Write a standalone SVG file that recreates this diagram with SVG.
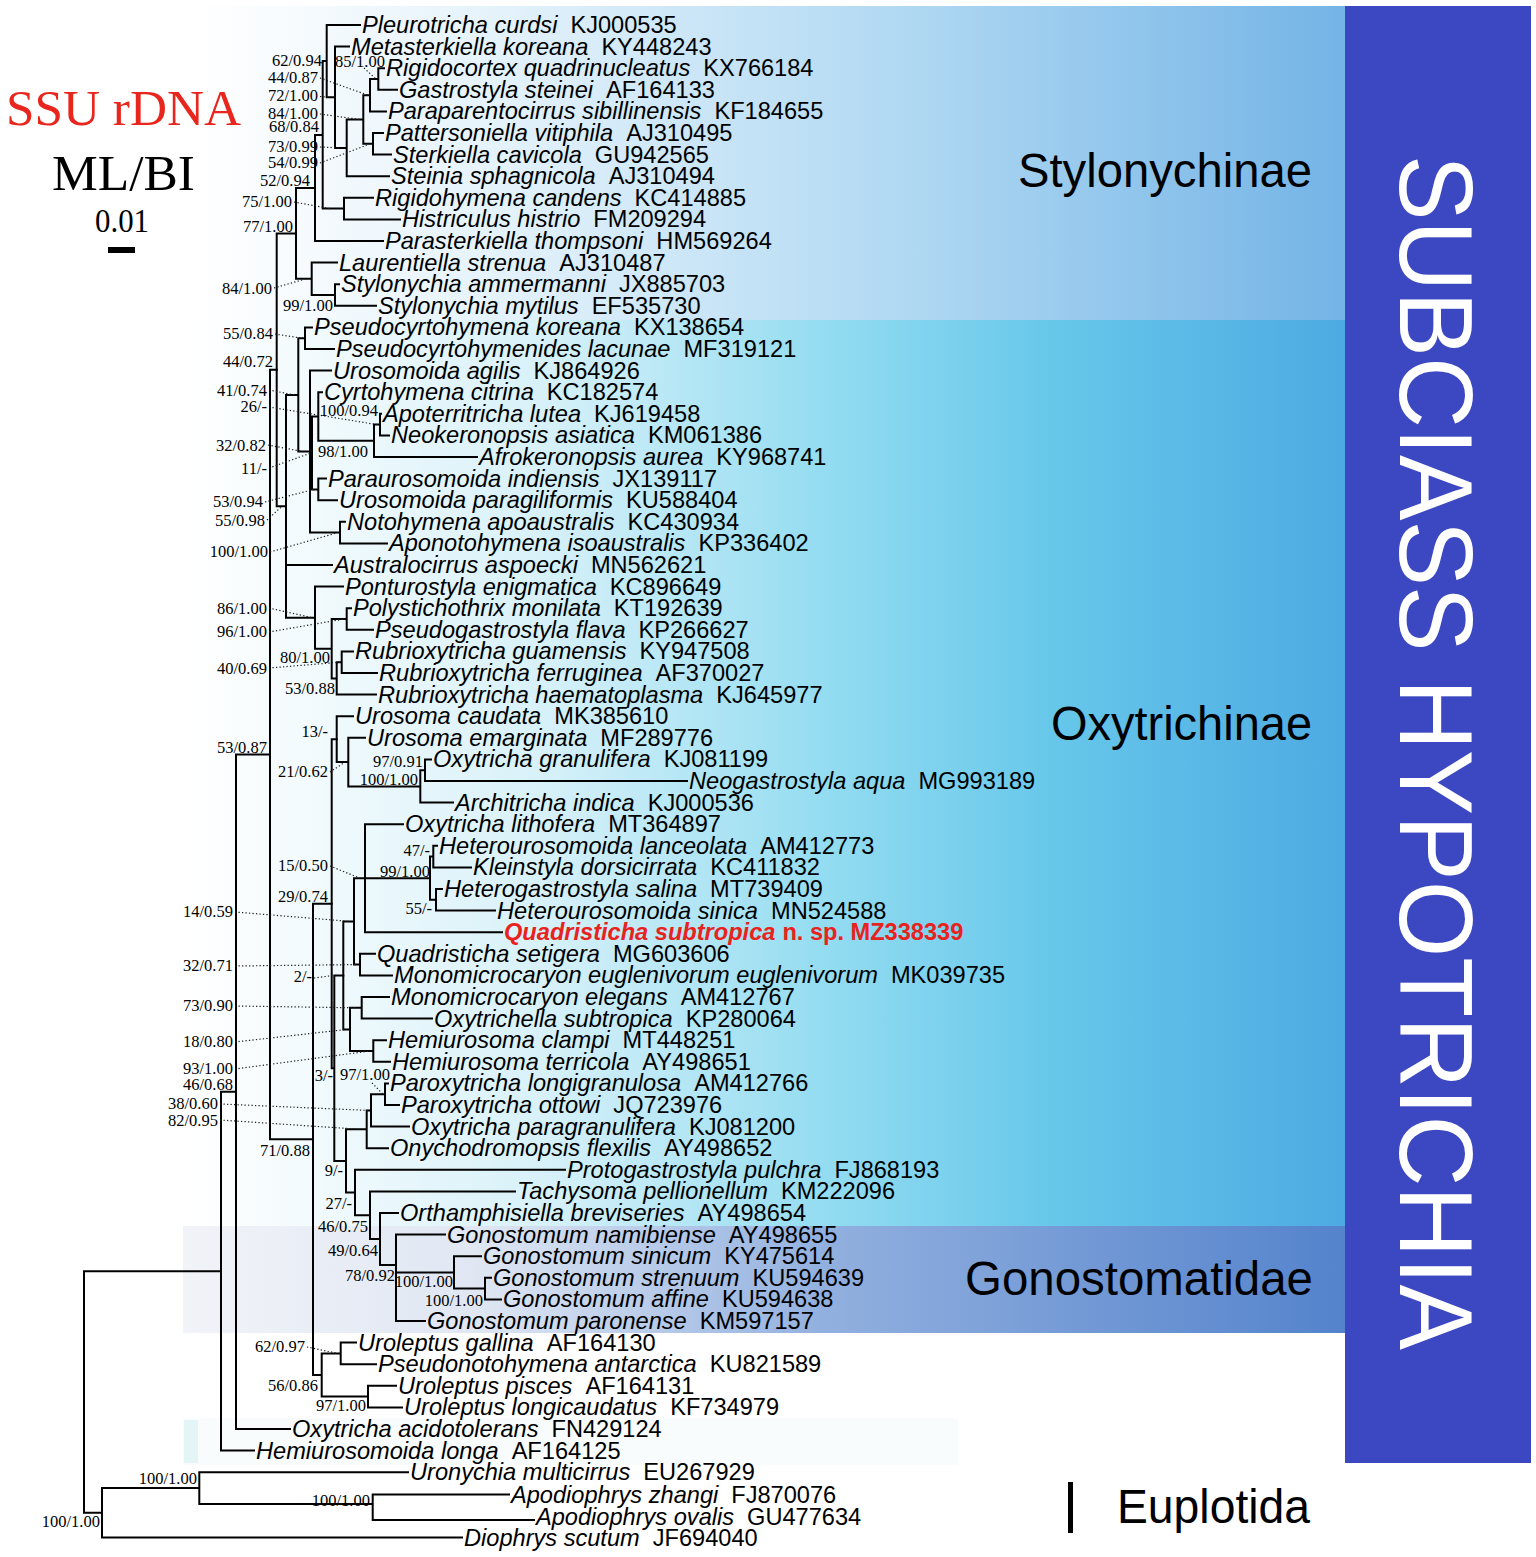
<svg xmlns="http://www.w3.org/2000/svg" width="1536" height="1557" viewBox="0 0 1536 1557">
<style>
.br{fill:none;stroke:#000;stroke-width:2;stroke-linecap:square}
.dot{fill:none;stroke:#222;stroke-width:1.2;stroke-dasharray:1.3 2.2}
.lf{font-family:"Liberation Sans",Arial,sans-serif;font-size:23.6px;fill:#000}
.n{font-style:italic}
.sp{font-family:"Liberation Serif","Times New Roman",serif;font-size:16.5px;text-anchor:end;fill:#000}
.cl{font-family:"Liberation Sans",Arial,sans-serif;font-size:48px;fill:#000}
.red{fill:#e8221c;font-weight:bold}
</style>
<defs>
<linearGradient id="gSty" gradientUnits="userSpaceOnUse" x1="195" y1="0" x2="1345" y2="0">
<stop offset="0" stop-color="#ffffff"/><stop offset="0.25" stop-color="#e6f3fb"/><stop offset="0.6" stop-color="#b3daf3"/><stop offset="1" stop-color="#74b4e6"/>
</linearGradient>
<linearGradient id="gOxy" gradientUnits="userSpaceOnUse" x1="195" y1="0" x2="1345" y2="0">
<stop offset="0" stop-color="#ffffff"/><stop offset="0.3" stop-color="#d8f1f9"/><stop offset="0.55" stop-color="#93dcf1"/><stop offset="0.75" stop-color="#66c7ea"/><stop offset="1" stop-color="#4eaae2"/>
</linearGradient>
<linearGradient id="gGon" gradientUnits="userSpaceOnUse" x1="183" y1="0" x2="1345" y2="0">
<stop offset="0" stop-color="#f1f3f8"/><stop offset="0.25" stop-color="#e0e7f3"/><stop offset="0.55" stop-color="#92b0df"/><stop offset="1" stop-color="#5483cc"/>
</linearGradient>
</defs>
<rect width="1536" height="1557" fill="#fff"/>
<g id="backgrounds">
<rect x="195" y="6" width="1150" height="314" fill="url(#gSty)"/>
<rect x="195" y="320" width="1150" height="906" fill="url(#gOxy)"/>
<rect x="183" y="1226" width="1162" height="107" fill="url(#gGon)"/>
<rect x="183" y="1418" width="775" height="47" fill="#f8fcfd"/>
<rect x="184" y="1420" width="14" height="43" fill="#e4f5f7"/>
<rect x="1345" y="6" width="186" height="1457" fill="#3c48c2"/>
</g>
<g id="titles">
<text x="6" y="125" font-family="'Liberation Serif','Times New Roman',serif" font-size="50" fill="#e8261d" textLength="235" lengthAdjust="spacingAndGlyphs">SSU rDNA</text>
<text x="52" y="190" font-family="'Liberation Serif','Times New Roman',serif" font-size="50" textLength="143" lengthAdjust="spacingAndGlyphs">ML/BI</text>
<text x="95" y="232" font-family="'Liberation Serif','Times New Roman',serif" font-size="34" textLength="54" lengthAdjust="spacingAndGlyphs">0.01</text>
<rect x="108" y="247" width="27" height="6" fill="#000"/>
</g>
<g id="clade-labels">
<text class="cl" x="1018" y="187" textLength="294" lengthAdjust="spacingAndGlyphs">Stylonychinae</text>
<text class="cl" x="1051" y="740" textLength="261" lengthAdjust="spacingAndGlyphs">Oxytrichinae</text>
<text class="cl" x="965" y="1295" textLength="348" lengthAdjust="spacingAndGlyphs">Gonostomatidae</text>
<text class="cl" x="1117" y="1523" textLength="193" lengthAdjust="spacingAndGlyphs">Euplotida</text>
<rect x="1068" y="1482" width="5" height="51" fill="#000"/>
<text transform="translate(1400,155) rotate(90)" font-family="'Liberation Sans',Arial,sans-serif" font-size="104" fill="#fff" textLength="1195" lengthAdjust="spacingAndGlyphs">SUBCIASS HYPOTRICHIA</text>
</g>
<g id="branches" class="br">
<path d="M378.3 68.2V89.8M378.3 68.2H384M378.3 89.8H397M370 79V111.4M370 79H378.3M370 111.4H386M373 133V154.6M373 133H383M373 154.6H391M363.3 95.2V143.8M363.3 95.2H370M363.3 143.8H373M346.7 119.5V176.2M346.7 119.5H363.3M346.7 176.2H389M335 46.6V147.9M335 46.6H349M335 147.9H346.7M326.7 25V97.25M326.7 25H360M326.7 97.25H335M344 197.8V219.4M344 197.8H373M344 219.4H400M322.7 61.1V208.6M322.7 61.1H326.7M322.7 208.6H344M315 134.9V241M315 134.9H322.7M315 241H383M335 284.2V305.8M335 284.2H339M335 305.8H376M311.7 262.6V295M311.7 262.6H337M311.7 295H335M296 188V278.8M296 188H315M296 278.8H311.7"/>
<path d="M305 327.4V349M305 327.4H312M305 349H334M380 413.8V435.4M380 413.8H381M380 435.4H389M374 424.6V457M374 424.6H380M374 457H477M318.3 392.2V440.8M318.3 392.2H322M318.3 440.8H374M318.3 478.6V500.2M318.3 478.6H326M318.3 500.2H337M312 416.5V489.4M312 416.5H318.3M312 489.4H318.3M340 521.8V543.4M340 521.8H345M340 543.4H387M310 370.6V532.6M310 370.6H331M310 453H312M310 532.6H340M298.3 338.2V451.6M298.3 338.2H305M298.3 451.6H310M346.7 608.2V629.8M346.7 608.2H351M346.7 629.8H373M341.7 651.4V673M341.7 651.4H353M341.7 673H377M336.7 662.2V694.6M336.7 662.2H341.7M336.7 694.6H376M331.7 619V678.4M331.7 619H346.7M331.7 678.4H336.7M315 586.6V648.7M315 586.6H343M315 648.7H331.7M286 394.9V617.65M286 394.9H298.3M286 565H332M286 617.65H315M276.7 233.4V506.3M276.7 233.4H296M276.7 506.3H286"/>
<path d="M425 759.4V781M425 759.4H431M425 781H687M420.3 770.2V802.6M420.3 770.2H425M420.3 802.6H453M348.3 737.8V786.4M348.3 737.8H365M348.3 786.4H420.3M336.7 716.2V762.1M336.7 716.2H353M336.7 762.1H348.3M433.3 845.8V867.4M433.3 845.8H437M433.3 867.4H471M436 889V910.6M436 889H442M436 910.6H495M430 856.6V899.8M430 856.6H433.3M430 899.8H436M365 824.2V932.2M365 824.2H403M365 878.2H430M365 932.2H502M360 953.8V975.4M360 953.8H375M360 975.4H392M354 878.2V964.6M354 878.2H365M354 964.6H360M361.7 997V1018.6M361.7 997H389M361.7 1018.6H432M373.3 1040.2V1061.8M373.3 1040.2H386M373.3 1061.8H390M350 1007.8V1051M350 1007.8H361.7M350 1051H373.3M343.3 921.4V1029.4M343.3 921.4H354M343.3 1029.4H350"/>
<path d="M385 1083.4V1105M385 1083.4H388M385 1105H399M371 1094.2V1126.6M371 1094.2H385M371 1126.6H409M366.7 1110.4V1148.2M366.7 1110.4H371M366.7 1148.2H388M485 1277.8V1299.4M485 1277.8H491M485 1299.4H501M454 1256.2V1288.6M454 1256.2H481M454 1288.6H485M396 1234.6V1321M396 1234.6H445M396 1272.4H454M396 1321H425M380 1213V1265M380 1213H398M380 1265H396M370 1191.4V1239M370 1191.4H515M370 1239H380M355 1169.8V1215.2M355 1169.8H565M355 1215.2H370M346 1129.3V1192.5M346 1129.3H366.7M346 1192.5H355M334.3 975.4V1160.9M334.3 975.4H343.3M334.3 1160.9H346M331.7 739.15V1068.15M331.7 739.15H336.7M331.7 1068.15H334.3"/>
<path d="M340.7 1342.6V1364.2M340.7 1342.6H356M340.7 1364.2H376M368 1385.8V1407.4M368 1385.8H396M368 1407.4H402M321.7 1353.4V1396.6M321.7 1353.4H340.7M321.7 1396.6H368M313 903.65V1375M313 903.65H331.7M313 1375H321.7M270 369.85V1139.3M270 369.85H276.7M270 1139.3H313M236 754.6V1429M236 754.6H270M236 1429H290M221 1091.8V1450.6M221 1091.8H236M221 1450.6H254"/>
<path d="M372.7 1494.5V1520M372.7 1494.5H509M372.7 1520H534M199.3 1472.2V1504M199.3 1472.2H408M199.3 1504H372.7M102 1488.1V1537.5M102 1488.1H199.3M102 1537.5H462M84 1271.2V1512.8M84 1271.2H221M84 1512.8H102"/>
</g>
<g id="support-leaders" class="dot">
<path d="M364 68L376 79M320 78L368 95.2M320 96.5L330 97.25M320 114L360 119.5M320 147L340 147.9M320 163L370 143.8M294 202L330 208.6M274 288L306 278.8"/>
<path d="M275 334L302 338.2M269 390L294 394.9M269 407L377 424.6M268 445L303 451.6M269 468L311 453M265 502L314 489.4M267 520L282 506.3M270 552L338 532.6M269 608L312 617.65M269 632L344 619M269 668L340 662.2"/>
<path d="M330 772L345 762.1M330 866L360 878.2M235 912L350 921.4M235 966L357 964.6M314 978L334 975.4M235 1006L355 1007.8M235 1042L347 1029.4M235 1069L370 1051M372 1083L383 1094.2M220 1104L368 1110.4M220 1120L360 1129.3M307 1347L338 1353.4"/>
</g>
<g id="support-values">
<text class="sp" x="322" y="66">62/0.94</text>
<text class="sp" x="385" y="66.5">85/1.00</text>
<text class="sp" x="318" y="83">44/0.87</text>
<text class="sp" x="318" y="101">72/1.00</text>
<text class="sp" x="318" y="119">84/1.00</text>
<text class="sp" x="319" y="132">68/0.84</text>
<text class="sp" x="318" y="152">73/0.99</text>
<text class="sp" x="318" y="168">54/0.99</text>
<text class="sp" x="310" y="186">52/0.94</text>
<text class="sp" x="292" y="207">75/1.00</text>
<text class="sp" x="293" y="232">77/1.00</text>
<text class="sp" x="272" y="294">84/1.00</text>
<text class="sp" x="333" y="311">99/1.00</text>
<text class="sp" x="273" y="339">55/0.84</text>
<text class="sp" x="273" y="367">44/0.72</text>
<text class="sp" x="267" y="396">41/0.74</text>
<text class="sp" x="267" y="412">26/-</text>
<text class="sp" x="378" y="416">100/0.94</text>
<text class="sp" x="266" y="451">32/0.82</text>
<text class="sp" x="267" y="474">11/-</text>
<text class="sp" x="368" y="457">98/1.00</text>
<text class="sp" x="263" y="507">53/0.94</text>
<text class="sp" x="265" y="526">55/0.98</text>
<text class="sp" x="268" y="557">100/1.00</text>
<text class="sp" x="267" y="614">86/1.00</text>
<text class="sp" x="267" y="637">96/1.00</text>
<text class="sp" x="330" y="663">80/1.00</text>
<text class="sp" x="267" y="674">40/0.69</text>
<text class="sp" x="335" y="694">53/0.88</text>
<text class="sp" x="267" y="753">53/0.87</text>
<text class="sp" x="328" y="737">13/-</text>
<text class="sp" x="328" y="777">21/0.62</text>
<text class="sp" x="423" y="767">97/0.91</text>
<text class="sp" x="418" y="785">100/1.00</text>
<text class="sp" x="328" y="871">15/0.50</text>
<text class="sp" x="430" y="877">99/1.00</text>
<text class="sp" x="430" y="856">47/-</text>
<text class="sp" x="432" y="914">55/-</text>
<text class="sp" x="328" y="902">29/0.74</text>
<text class="sp" x="233" y="917">14/0.59</text>
<text class="sp" x="233" y="971">32/0.71</text>
<text class="sp" x="312" y="982">2/-</text>
<text class="sp" x="233" y="1011">73/0.90</text>
<text class="sp" x="233" y="1047">18/0.80</text>
<text class="sp" x="233" y="1074">93/1.00</text>
<text class="sp" x="333" y="1081">3/-</text>
<text class="sp" x="390" y="1080">97/1.00</text>
<text class="sp" x="233" y="1090">46/0.68</text>
<text class="sp" x="218" y="1109">38/0.60</text>
<text class="sp" x="218" y="1126">82/0.95</text>
<text class="sp" x="310" y="1156">71/0.88</text>
<text class="sp" x="343" y="1176">9/-</text>
<text class="sp" x="352" y="1209">27/-</text>
<text class="sp" x="368" y="1232">46/0.75</text>
<text class="sp" x="378" y="1256">49/0.64</text>
<text class="sp" x="395" y="1281">78/0.92</text>
<text class="sp" x="453" y="1287">100/1.00</text>
<text class="sp" x="483" y="1306">100/1.00</text>
<text class="sp" x="305" y="1352">62/0.97</text>
<text class="sp" x="318" y="1391">56/0.86</text>
<text class="sp" x="366" y="1411">97/1.00</text>
<text class="sp" x="197" y="1484">100/1.00</text>
<text class="sp" x="370" y="1506">100/1.00</text>
<text class="sp" x="100" y="1527">100/1.00</text>
</g>
<g id="taxa">
<g id="t01"><text class="lf" x="362" y="33"><tspan class="n">Pleurotricha curdsi</tspan><tspan dx="13">KJ000535</tspan></text></g>
<g id="t02"><text class="lf" x="351" y="54.6"><tspan class="n">Metasterkiella koreana</tspan><tspan dx="13">KY448243</tspan></text></g>
<g id="t03"><text class="lf" x="386" y="76.2"><tspan class="n">Rigidocortex quadrinucleatus</tspan><tspan dx="13">KX766184</tspan></text></g>
<g id="t04"><text class="lf" x="399" y="97.8"><tspan class="n">Gastrostyla steinei</tspan><tspan dx="13">AF164133</tspan></text></g>
<g id="t05"><text class="lf" x="388" y="119.4"><tspan class="n">Paraparentocirrus sibillinensis</tspan><tspan dx="13">KF184655</tspan></text></g>
<g id="t06"><text class="lf" x="385" y="141"><tspan class="n">Pattersoniella vitiphila</tspan><tspan dx="13">AJ310495</tspan></text></g>
<g id="t07"><text class="lf" x="393" y="162.6"><tspan class="n">Sterkiella cavicola</tspan><tspan dx="13">GU942565</tspan></text></g>
<g id="t08"><text class="lf" x="391" y="184.2"><tspan class="n">Steinia sphagnicola</tspan><tspan dx="13">AJ310494</tspan></text></g>
<g id="t09"><text class="lf" x="375" y="205.8"><tspan class="n">Rigidohymena candens</tspan><tspan dx="13">KC414885</tspan></text></g>
<g id="t10"><text class="lf" x="402" y="227.4"><tspan class="n">Histriculus histrio</tspan><tspan dx="13">FM209294</tspan></text></g>
<g id="t11"><text class="lf" x="385" y="249"><tspan class="n">Parasterkiella thompsoni</tspan><tspan dx="13">HM569264</tspan></text></g>
<g id="t12"><text class="lf" x="339" y="270.6"><tspan class="n">Laurentiella strenua</tspan><tspan dx="13">AJ310487</tspan></text></g>
<g id="t13"><text class="lf" x="341" y="292.2"><tspan class="n">Stylonychia ammermanni</tspan><tspan dx="13">JX885703</tspan></text></g>
<g id="t14"><text class="lf" x="378" y="313.8"><tspan class="n">Stylonychia mytilus</tspan><tspan dx="13">EF535730</tspan></text></g>
<g id="t15"><text class="lf" x="314" y="335.4"><tspan class="n">Pseudocyrtohymena koreana</tspan><tspan dx="13">KX138654</tspan></text></g>
<g id="t16"><text class="lf" x="336" y="357"><tspan class="n">Pseudocyrtohymenides lacunae</tspan><tspan dx="13">MF319121</tspan></text></g>
<g id="t17"><text class="lf" x="333" y="378.6"><tspan class="n">Urosomoida agilis</tspan><tspan dx="13">KJ864926</tspan></text></g>
<g id="t18"><text class="lf" x="324" y="400.2"><tspan class="n">Cyrtohymena citrina</tspan><tspan dx="13">KC182574</tspan></text></g>
<g id="t19"><text class="lf" x="383" y="421.8"><tspan class="n">Apoterritricha lutea</tspan><tspan dx="13">KJ619458</tspan></text></g>
<g id="t20"><text class="lf" x="391" y="443.4"><tspan class="n">Neokeronopsis asiatica</tspan><tspan dx="13">KM061386</tspan></text></g>
<g id="t21"><text class="lf" x="479" y="465"><tspan class="n">Afrokeronopsis aurea</tspan><tspan dx="13">KY968741</tspan></text></g>
<g id="t22"><text class="lf" x="328" y="486.6"><tspan class="n">Paraurosomoida indiensis</tspan><tspan dx="13">JX139117</tspan></text></g>
<g id="t23"><text class="lf" x="339" y="508.2"><tspan class="n">Urosomoida paragiliformis</tspan><tspan dx="13">KU588404</tspan></text></g>
<g id="t24"><text class="lf" x="347" y="529.8"><tspan class="n">Notohymena apoaustralis</tspan><tspan dx="13">KC430934</tspan></text></g>
<g id="t25"><text class="lf" x="389" y="551.4"><tspan class="n">Aponotohymena isoaustralis</tspan><tspan dx="13">KP336402</tspan></text></g>
<g id="t26"><text class="lf" x="334" y="573"><tspan class="n">Australocirrus aspoecki</tspan><tspan dx="13">MN562621</tspan></text></g>
<g id="t27"><text class="lf" x="345" y="594.6"><tspan class="n">Ponturostyla enigmatica</tspan><tspan dx="13">KC896649</tspan></text></g>
<g id="t28"><text class="lf" x="353" y="616.2"><tspan class="n">Polystichothrix monilata</tspan><tspan dx="13">KT192639</tspan></text></g>
<g id="t29"><text class="lf" x="375" y="637.8"><tspan class="n">Pseudogastrostyla flava</tspan><tspan dx="13">KP266627</tspan></text></g>
<g id="t30"><text class="lf" x="355" y="659.4"><tspan class="n">Rubrioxytricha guamensis</tspan><tspan dx="13">KY947508</tspan></text></g>
<g id="t31"><text class="lf" x="379" y="681"><tspan class="n">Rubrioxytricha ferruginea</tspan><tspan dx="13">AF370027</tspan></text></g>
<g id="t32"><text class="lf" x="378" y="702.6"><tspan class="n">Rubrioxytricha haematoplasma</tspan><tspan dx="13">KJ645977</tspan></text></g>
<g id="t33"><text class="lf" x="355" y="724.2"><tspan class="n">Urosoma caudata</tspan><tspan dx="13">MK385610</tspan></text></g>
<g id="t34"><text class="lf" x="367" y="745.8"><tspan class="n">Urosoma emarginata</tspan><tspan dx="13">MF289776</tspan></text></g>
<g id="t35"><text class="lf" x="433" y="767.4"><tspan class="n">Oxytricha granulifera</tspan><tspan dx="13">KJ081199</tspan></text></g>
<g id="t36"><text class="lf" x="689" y="789"><tspan class="n">Neogastrostyla aqua</tspan><tspan dx="13">MG993189</tspan></text></g>
<g id="t37"><text class="lf" x="455" y="810.6"><tspan class="n">Architricha indica</tspan><tspan dx="13">KJ000536</tspan></text></g>
<g id="t38"><text class="lf" x="405" y="832.2"><tspan class="n">Oxytricha lithofera</tspan><tspan dx="13">MT364897</tspan></text></g>
<g id="t39"><text class="lf" x="439" y="853.8"><tspan class="n">Heterourosomoida lanceolata</tspan><tspan dx="13">AM412773</tspan></text></g>
<g id="t40"><text class="lf" x="473" y="875.4"><tspan class="n">Kleinstyla dorsicirrata</tspan><tspan dx="13">KC411832</tspan></text></g>
<g id="t41"><text class="lf" x="444" y="897"><tspan class="n">Heterogastrostyla salina</tspan><tspan dx="13">MT739409</tspan></text></g>
<g id="t42"><text class="lf" x="497" y="918.6"><tspan class="n">Heterourosomoida sinica</tspan><tspan dx="13">MN524588</tspan></text></g>
<g id="t43"><text class="lf red" x="504" y="940.2"><tspan class="n">Quadristicha subtropica</tspan><tspan dx="7">n. sp. MZ338339</tspan></text></g>
<g id="t44"><text class="lf" x="377" y="961.8"><tspan class="n">Quadristicha setigera</tspan><tspan dx="13">MG603606</tspan></text></g>
<g id="t45"><text class="lf" x="394" y="983.4"><tspan class="n">Monomicrocaryon euglenivorum euglenivorum</tspan><tspan dx="13">MK039735</tspan></text></g>
<g id="t46"><text class="lf" x="391" y="1005"><tspan class="n">Monomicrocaryon elegans</tspan><tspan dx="13">AM412767</tspan></text></g>
<g id="t47"><text class="lf" x="434" y="1026.6"><tspan class="n">Oxytrichella subtropica</tspan><tspan dx="13">KP280064</tspan></text></g>
<g id="t48"><text class="lf" x="388" y="1048.2"><tspan class="n">Hemiurosoma clampi</tspan><tspan dx="13">MT448251</tspan></text></g>
<g id="t49"><text class="lf" x="392" y="1069.8"><tspan class="n">Hemiurosoma terricola</tspan><tspan dx="13">AY498651</tspan></text></g>
<g id="t50"><text class="lf" x="390" y="1091.4"><tspan class="n">Paroxytricha longigranulosa</tspan><tspan dx="13">AM412766</tspan></text></g>
<g id="t51"><text class="lf" x="401" y="1113"><tspan class="n">Paroxytricha ottowi</tspan><tspan dx="13">JQ723976</tspan></text></g>
<g id="t52"><text class="lf" x="411" y="1134.6"><tspan class="n">Oxytricha paragranulifera</tspan><tspan dx="13">KJ081200</tspan></text></g>
<g id="t53"><text class="lf" x="390" y="1156.2"><tspan class="n">Onychodromopsis flexilis</tspan><tspan dx="13">AY498652</tspan></text></g>
<g id="t54"><text class="lf" x="567" y="1177.8"><tspan class="n">Protogastrostyla pulchra</tspan><tspan dx="13">FJ868193</tspan></text></g>
<g id="t55"><text class="lf" x="517" y="1199.4"><tspan class="n">Tachysoma pellionellum</tspan><tspan dx="13">KM222096</tspan></text></g>
<g id="t56"><text class="lf" x="400" y="1221"><tspan class="n">Orthamphisiella breviseries</tspan><tspan dx="13">AY498654</tspan></text></g>
<g id="t57"><text class="lf" x="447" y="1242.6"><tspan class="n">Gonostomum namibiense</tspan><tspan dx="13">AY498655</tspan></text></g>
<g id="t58"><text class="lf" x="483" y="1264.2"><tspan class="n">Gonostomum sinicum</tspan><tspan dx="13">KY475614</tspan></text></g>
<g id="t59"><text class="lf" x="493" y="1285.8"><tspan class="n">Gonostomum strenuum</tspan><tspan dx="13">KU594639</tspan></text></g>
<g id="t60"><text class="lf" x="503" y="1307.4"><tspan class="n">Gonostomum affine</tspan><tspan dx="13">KU594638</tspan></text></g>
<g id="t61"><text class="lf" x="427" y="1329"><tspan class="n">Gonostomum paronense</tspan><tspan dx="13">KM597157</tspan></text></g>
<g id="t62"><text class="lf" x="358" y="1350.6"><tspan class="n">Uroleptus gallina</tspan><tspan dx="13">AF164130</tspan></text></g>
<g id="t63"><text class="lf" x="378" y="1372.2"><tspan class="n">Pseudonotohymena antarctica</tspan><tspan dx="13">KU821589</tspan></text></g>
<g id="t64"><text class="lf" x="398" y="1393.8"><tspan class="n">Uroleptus pisces</tspan><tspan dx="13">AF164131</tspan></text></g>
<g id="t65"><text class="lf" x="404" y="1415.4"><tspan class="n">Uroleptus longicaudatus</tspan><tspan dx="13">KF734979</tspan></text></g>
<g id="t66"><text class="lf" x="292" y="1437"><tspan class="n">Oxytricha acidotolerans</tspan><tspan dx="13">FN429124</tspan></text></g>
<g id="t67"><text class="lf" x="256" y="1458.6"><tspan class="n">Hemiurosomoida longa</tspan><tspan dx="13">AF164125</tspan></text></g>
<g id="t68"><text class="lf" x="410" y="1480.2"><tspan class="n">Uronychia multicirrus</tspan><tspan dx="13">EU267929</tspan></text></g>
<g id="t69"><text class="lf" x="511" y="1502.5"><tspan class="n">Apodiophrys zhangi</tspan><tspan dx="13">FJ870076</tspan></text></g>
<g id="t70"><text class="lf" x="536" y="1525"><tspan class="n">Apodiophrys ovalis</tspan><tspan dx="13">GU477634</tspan></text></g>
<g id="t71"><text class="lf" x="464" y="1545.5"><tspan class="n">Diophrys scutum</tspan><tspan dx="13">JF694040</tspan></text></g>
</g>
</svg>
